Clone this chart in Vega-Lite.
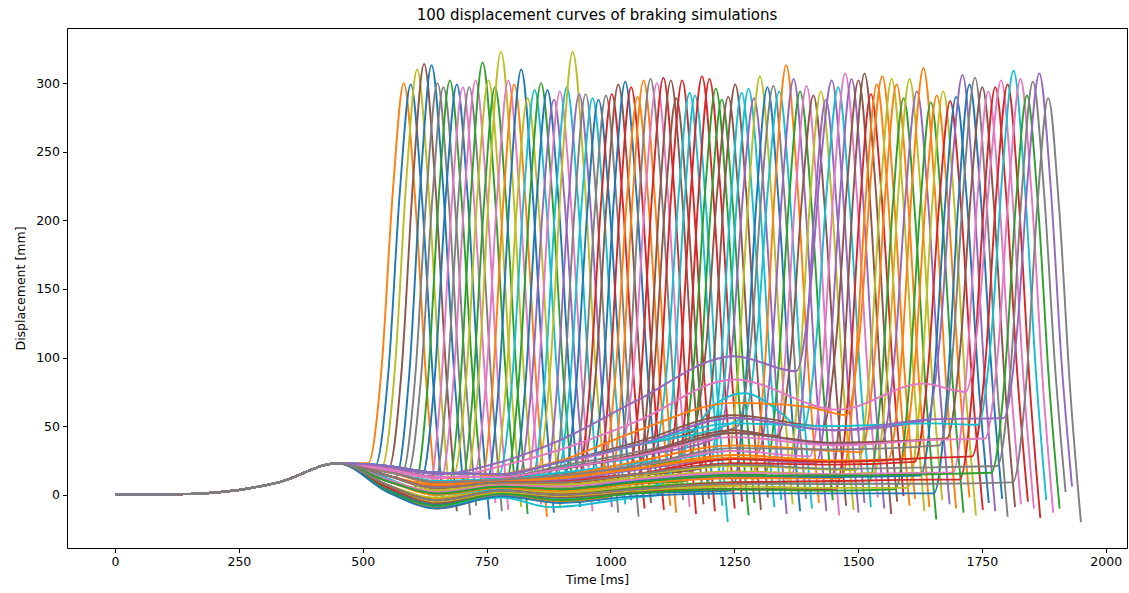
{
  "$schema": "https://vega.github.io/schema/vega-lite/v6.json",
  "width": 1060,
  "height": 520,
  "autosize": {"type": "none"},
  "padding": {"left": 67, "top": 28, "right": 2, "bottom": 45},
  "background": "#ffffff",
  "title": {"text": "100 displacement curves of braking simulations", "font": "DejaVu Sans", "fontSize": 15, "fontWeight": "normal", "color": "#000", "anchor": "middle", "offset": 5},
  "config": {
    "view": {"stroke": "#000", "strokeWidth": 1},
    "font": "DejaVu Sans",
    "axis": {"grid": false, "domain": false, "tickColor": "#000", "tickSize": 4.5, "labelFontSize": 12.5, "labelColor": "#000", "labelPadding": 3, "titleFontSize": 12.5, "titleFontWeight": "normal", "titleColor": "#000", "labelFlush": false, "labelOverlap": false, "format": "d"}
  },
  "data": {"values": [
{"sim":1,"t":0,"d":0},{"sim":1,"t":140,"d":0.5},{"sim":1,"t":330,"d":9},{"sim":1,"t":450,"d":23},{"sim":1,"t":511,"d":23},{"sim":1,"t":538,"d":92},{"sim":1,"t":561,"d":222},{"sim":1,"t":583,"d":300},{"sim":1,"t":605,"d":220},{"sim":1,"t":628,"d":84},{"sim":1,"t":649,"d":-8},
{"sim":0,"t":0,"d":0},{"sim":0,"t":140,"d":0.5},{"sim":0,"t":330,"d":9},{"sim":0,"t":450,"d":23},{"sim":0,"t":525,"d":21},{"sim":0,"t":552,"d":90},{"sim":0,"t":575,"d":221},{"sim":0,"t":597,"d":299},{"sim":0,"t":619,"d":219},{"sim":0,"t":642,"d":83},{"sim":0,"t":663,"d":-10},
{"sim":8,"t":0,"d":0},{"sim":8,"t":140,"d":0.5},{"sim":8,"t":330,"d":9},{"sim":8,"t":450,"d":23},{"sim":8,"t":538,"d":20},{"sim":8,"t":565,"d":92},{"sim":8,"t":588,"d":229},{"sim":8,"t":610,"d":310},{"sim":8,"t":632,"d":228},{"sim":8,"t":655,"d":90},{"sim":8,"t":676,"d":-5},
{"sim":5,"t":0,"d":0},{"sim":5,"t":140,"d":0.5},{"sim":5,"t":330,"d":9},{"sim":5,"t":450,"d":23},{"sim":5,"t":552,"d":19},{"sim":5,"t":579,"d":93},{"sim":5,"t":602,"d":231},{"sim":5,"t":624,"d":314},{"sim":5,"t":646,"d":229},{"sim":5,"t":669,"d":86},{"sim":5,"t":690,"d":-12},
{"sim":10,"t":0,"d":0},{"sim":10,"t":140,"d":0.5},{"sim":10,"t":330,"d":9},{"sim":10,"t":450,"d":23},{"sim":10,"t":567,"d":13},{"sim":10,"t":594,"d":88},{"sim":10,"t":617,"d":229},{"sim":10,"t":639,"d":313},{"sim":10,"t":661,"d":231},{"sim":10,"t":684,"d":92},{"sim":10,"t":705,"d":-3},
{"sim":7,"t":0,"d":0},{"sim":7,"t":140,"d":0.5},{"sim":7,"t":330,"d":9},{"sim":7,"t":450,"d":23},{"sim":7,"t":579,"d":15},{"sim":7,"t":606,"d":86},{"sim":7,"t":629,"d":220},{"sim":7,"t":651,"d":300},{"sim":7,"t":673,"d":218},{"sim":7,"t":696,"d":80},{"sim":7,"t":717,"d":-15},
{"sim":17,"t":0,"d":0},{"sim":17,"t":140,"d":0.5},{"sim":17,"t":330,"d":9},{"sim":17,"t":450,"d":23},{"sim":17,"t":591,"d":16.5},{"sim":17,"t":618,"d":87},{"sim":17,"t":641,"d":218},{"sim":17,"t":663,"d":297},{"sim":17,"t":685,"d":218},{"sim":17,"t":708,"d":84},{"sim":17,"t":729,"d":-8},
{"sim":2,"t":0,"d":0},{"sim":2,"t":140,"d":0.5},{"sim":2,"t":330,"d":9},{"sim":2,"t":450,"d":23},{"sim":2,"t":550,"d":10},{"sim":2,"t":604,"d":5},{"sim":2,"t":631,"d":79},{"sim":2,"t":654,"d":219},{"sim":2,"t":676,"d":302},{"sim":2,"t":698,"d":223},{"sim":2,"t":721,"d":91},{"sim":2,"t":742,"d":0},
{"sim":20,"t":0,"d":0},{"sim":20,"t":140,"d":0.5},{"sim":20,"t":330,"d":9},{"sim":20,"t":450,"d":23},{"sim":20,"t":550,"d":17},{"sim":20,"t":618,"d":11.6},{"sim":20,"t":645,"d":83.5},{"sim":20,"t":668,"d":218.5},{"sim":20,"t":690,"d":299},{"sim":20,"t":712,"d":216.6},{"sim":20,"t":735,"d":77},{"sim":20,"t":756,"d":-18},
{"sim":6,"t":0,"d":0},{"sim":6,"t":140,"d":0.5},{"sim":6,"t":330,"d":9},{"sim":6,"t":450,"d":23},{"sim":6,"t":550,"d":7},{"sim":6,"t":630,"d":-2},{"sim":6,"t":657,"d":73},{"sim":6,"t":680,"d":213},{"sim":6,"t":702,"d":297},{"sim":6,"t":724,"d":218},{"sim":6,"t":747,"d":85},{"sim":6,"t":768,"d":-6},
{"sim":27,"t":0,"d":0},{"sim":27,"t":140,"d":0.5},{"sim":27,"t":330,"d":9},{"sim":27,"t":450,"d":23},{"sim":27,"t":550,"d":14},{"sim":27,"t":643,"d":5.6},{"sim":27,"t":670,"d":78.5},{"sim":27,"t":693,"d":215.4},{"sim":27,"t":715,"d":297},{"sim":27,"t":737,"d":216.7},{"sim":27,"t":760,"d":80.7},{"sim":27,"t":781,"d":-12},
{"sim":16,"t":0,"d":0},{"sim":16,"t":140,"d":0.5},{"sim":16,"t":330,"d":9},{"sim":16,"t":450,"d":23},{"sim":16,"t":550,"d":17},{"sim":16,"t":656,"d":9},{"sim":16,"t":683,"d":82},{"sim":16,"t":706,"d":220},{"sim":16,"t":728,"d":302},{"sim":16,"t":750,"d":221},{"sim":16,"t":773,"d":83},{"sim":16,"t":794,"d":-11},
{"sim":12,"t":0,"d":0},{"sim":12,"t":140,"d":0.5},{"sim":12,"t":330,"d":9},{"sim":12,"t":450,"d":23},{"sim":12,"t":550,"d":10},{"sim":12,"t":650,"d":1},{"sim":12,"t":670,"d":2},{"sim":12,"t":697,"d":80},{"sim":12,"t":720,"d":227},{"sim":12,"t":742,"d":315},{"sim":12,"t":764,"d":234},{"sim":12,"t":787,"d":97},{"sim":12,"t":808,"d":4},
{"sim":18,"t":0,"d":0},{"sim":18,"t":140,"d":0.5},{"sim":18,"t":330,"d":9},{"sim":18,"t":450,"d":23},{"sim":18,"t":550,"d":19},{"sim":18,"t":650,"d":13},{"sim":18,"t":682,"d":13},{"sim":18,"t":709,"d":85},{"sim":18,"t":732,"d":221},{"sim":18,"t":754,"d":302},{"sim":18,"t":776,"d":221},{"sim":18,"t":799,"d":84},{"sim":18,"t":820,"d":-9},
{"sim":22,"t":0,"d":0},{"sim":22,"t":140,"d":0.5},{"sim":22,"t":330,"d":9},{"sim":22,"t":450,"d":23},{"sim":22,"t":550,"d":7},{"sim":22,"t":650,"d":-4},{"sim":22,"t":695,"d":-1.6},{"sim":22,"t":722,"d":73},{"sim":22,"t":745,"d":213},{"sim":22,"t":767,"d":297},{"sim":22,"t":789,"d":216},{"sim":22,"t":812,"d":79},{"sim":22,"t":833,"d":-14},
{"sim":28,"t":0,"d":0},{"sim":28,"t":140,"d":0.5},{"sim":28,"t":330,"d":9},{"sim":28,"t":450,"d":23},{"sim":28,"t":550,"d":14},{"sim":28,"t":650,"d":5},{"sim":28,"t":707,"d":6.3},{"sim":28,"t":734,"d":85.5},{"sim":28,"t":757,"d":234},{"sim":28,"t":779,"d":323},{"sim":28,"t":801,"d":238.5},{"sim":28,"t":824,"d":95.5},{"sim":28,"t":845,"d":-2},
{"sim":26,"t":0,"d":0},{"sim":26,"t":140,"d":0.5},{"sim":26,"t":330,"d":9},{"sim":26,"t":450,"d":23},{"sim":26,"t":550,"d":17},{"sim":26,"t":650,"d":9},{"sim":26,"t":722,"d":10},{"sim":26,"t":749,"d":83},{"sim":26,"t":772,"d":220},{"sim":26,"t":794,"d":302},{"sim":26,"t":816,"d":222},{"sim":26,"t":839,"d":86},{"sim":26,"t":860,"d":-7},
{"sim":11,"t":0,"d":0},{"sim":11,"t":140,"d":0.5},{"sim":11,"t":330,"d":9},{"sim":11,"t":450,"d":23},{"sim":11,"t":550,"d":3},{"sim":11,"t":650,"d":-9},{"sim":11,"t":734,"d":-3},{"sim":11,"t":761,"d":72.5},{"sim":11,"t":784,"d":214.5},{"sim":11,"t":806,"d":299},{"sim":11,"t":828,"d":217},{"sim":11,"t":851,"d":78.5},{"sim":11,"t":872,"d":-16},
{"sim":30,"t":0,"d":0},{"sim":30,"t":140,"d":0.5},{"sim":30,"t":330,"d":9},{"sim":30,"t":450,"d":23},{"sim":30,"t":550,"d":10},{"sim":30,"t":650,"d":1},{"sim":30,"t":748,"d":5},{"sim":30,"t":775,"d":81},{"sim":30,"t":798,"d":225},{"sim":30,"t":820,"d":310},{"sim":30,"t":842,"d":226},{"sim":30,"t":865,"d":84},{"sim":30,"t":886,"d":-13},
{"sim":38,"t":0,"d":0},{"sim":38,"t":140,"d":0.5},{"sim":38,"t":330,"d":9},{"sim":38,"t":450,"d":23},{"sim":38,"t":550,"d":7},{"sim":38,"t":650,"d":-4},{"sim":38,"t":761,"d":2},{"sim":38,"t":788,"d":74},{"sim":38,"t":811,"d":209},{"sim":38,"t":833,"d":289},{"sim":38,"t":855,"d":211},{"sim":38,"t":878,"d":80},{"sim":38,"t":899,"d":-10},
{"sim":9,"t":0,"d":0},{"sim":9,"t":140,"d":0.5},{"sim":9,"t":330,"d":9},{"sim":9,"t":450,"d":23},{"sim":9,"t":550,"d":21},{"sim":9,"t":650,"d":16},{"sim":9,"t":775,"d":15},{"sim":9,"t":802,"d":85},{"sim":9,"t":825,"d":217},{"sim":9,"t":847,"d":295},{"sim":9,"t":869,"d":219},{"sim":9,"t":892,"d":90},{"sim":9,"t":913,"d":2},
{"sim":32,"t":0,"d":0},{"sim":32,"t":140,"d":0.5},{"sim":32,"t":330,"d":9},{"sim":32,"t":450,"d":23},{"sim":32,"t":550,"d":14},{"sim":32,"t":650,"d":5},{"sim":32,"t":788,"d":9},{"sim":32,"t":815,"d":82},{"sim":32,"t":838,"d":218.5},{"sim":32,"t":860,"d":300},{"sim":32,"t":882,"d":221},{"sim":32,"t":905,"d":87},{"sim":32,"t":926,"d":-4},
{"sim":40,"t":0,"d":0},{"sim":40,"t":140,"d":0.5},{"sim":40,"t":330,"d":9},{"sim":40,"t":450,"d":23},{"sim":40,"t":550,"d":10},{"sim":40,"t":650,"d":1},{"sim":40,"t":780,"d":6},{"sim":40,"t":801,"d":5.8},{"sim":40,"t":828,"d":78},{"sim":40,"t":851,"d":214},{"sim":40,"t":873,"d":295},{"sim":40,"t":895,"d":216},{"sim":40,"t":918,"d":82},{"sim":40,"t":939,"d":-9},
{"sim":4,"t":0,"d":0},{"sim":4,"t":140,"d":0.5},{"sim":4,"t":330,"d":9},{"sim":4,"t":450,"d":23},{"sim":4,"t":550,"d":17},{"sim":4,"t":650,"d":9},{"sim":4,"t":780,"d":11},{"sim":4,"t":814,"d":12.4},{"sim":4,"t":841,"d":81},{"sim":4,"t":864,"d":211},{"sim":4,"t":886,"d":288},{"sim":4,"t":908,"d":212},{"sim":4,"t":931,"d":83},{"sim":4,"t":952,"d":-5},
{"sim":36,"t":0,"d":0},{"sim":36,"t":140,"d":0.5},{"sim":36,"t":330,"d":9},{"sim":36,"t":450,"d":23},{"sim":36,"t":550,"d":7},{"sim":36,"t":650,"d":-4},{"sim":36,"t":780,"d":3},{"sim":36,"t":826,"d":1.5},{"sim":36,"t":853,"d":75},{"sim":36,"t":876,"d":212},{"sim":36,"t":898,"d":294},{"sim":36,"t":920,"d":214.5},{"sim":36,"t":943,"d":80},{"sim":36,"t":964,"d":-12},
{"sim":19,"t":0,"d":0},{"sim":19,"t":140,"d":0.5},{"sim":19,"t":330,"d":9},{"sim":19,"t":450,"d":23},{"sim":19,"t":550,"d":14},{"sim":19,"t":650,"d":5},{"sim":19,"t":780,"d":9},{"sim":19,"t":840,"d":9.5},{"sim":19,"t":867,"d":81},{"sim":19,"t":890,"d":216.5},{"sim":19,"t":912,"d":297},{"sim":19,"t":934,"d":218},{"sim":19,"t":957,"d":85},{"sim":19,"t":978,"d":-6},
{"sim":48,"t":0,"d":0},{"sim":48,"t":140,"d":0.5},{"sim":48,"t":330,"d":9},{"sim":48,"t":450,"d":23},{"sim":48,"t":550,"d":19},{"sim":48,"t":650,"d":13},{"sim":48,"t":780,"d":13},{"sim":48,"t":852,"d":17},{"sim":48,"t":879,"d":93.5},{"sim":48,"t":902,"d":237},{"sim":48,"t":924,"d":323},{"sim":48,"t":946,"d":240},{"sim":48,"t":969,"d":99},{"sim":48,"t":990,"d":3},
{"sim":14,"t":0,"d":0},{"sim":14,"t":140,"d":0.5},{"sim":14,"t":330,"d":9},{"sim":14,"t":450,"d":23},{"sim":14,"t":550,"d":10},{"sim":14,"t":650,"d":1},{"sim":14,"t":780,"d":6},{"sim":14,"t":865,"d":4.6},{"sim":14,"t":892,"d":76.5},{"sim":14,"t":915,"d":211.5},{"sim":14,"t":937,"d":292},{"sim":14,"t":959,"d":214},{"sim":14,"t":982,"d":81},{"sim":14,"t":1003,"d":-9},
{"sim":37,"t":0,"d":0},{"sim":37,"t":140,"d":0.5},{"sim":37,"t":330,"d":9},{"sim":37,"t":450,"d":23},{"sim":37,"t":550,"d":3},{"sim":37,"t":650,"d":-9},{"sim":37,"t":780,"d":0},{"sim":37,"t":878,"d":-4},{"sim":37,"t":905,"d":70},{"sim":37,"t":928,"d":209},{"sim":37,"t":950,"d":292},{"sim":37,"t":972,"d":213},{"sim":37,"t":995,"d":78.5},{"sim":37,"t":1016,"d":-13},
{"sim":29,"t":0,"d":0},{"sim":29,"t":140,"d":0.5},{"sim":29,"t":330,"d":9},{"sim":29,"t":450,"d":23},{"sim":29,"t":550,"d":17},{"sim":29,"t":650,"d":9},{"sim":29,"t":780,"d":11},{"sim":29,"t":892,"d":14},{"sim":29,"t":919,"d":83},{"sim":29,"t":942,"d":212},{"sim":29,"t":964,"d":289},{"sim":29,"t":986,"d":212},{"sim":29,"t":1009,"d":82},{"sim":29,"t":1030,"d":-7},
{"sim":50,"t":0,"d":0},{"sim":50,"t":140,"d":0.5},{"sim":50,"t":330,"d":9},{"sim":50,"t":450,"d":23},{"sim":50,"t":550,"d":14},{"sim":50,"t":650,"d":5},{"sim":50,"t":780,"d":8},{"sim":50,"t":904,"d":10},{"sim":50,"t":931,"d":79.5},{"sim":50,"t":954,"d":210},{"sim":50,"t":976,"d":288},{"sim":50,"t":998,"d":212},{"sim":50,"t":1021,"d":83.6},{"sim":50,"t":1042,"d":-4},
{"sim":47,"t":0,"d":0},{"sim":47,"t":140,"d":0.5},{"sim":47,"t":330,"d":9},{"sim":47,"t":450,"d":23},{"sim":47,"t":550,"d":7},{"sim":47,"t":650,"d":-4},{"sim":47,"t":780,"d":3},{"sim":47,"t":919,"d":0},{"sim":47,"t":946,"d":73},{"sim":47,"t":969,"d":209.5},{"sim":47,"t":991,"d":291},{"sim":47,"t":1013,"d":211},{"sim":47,"t":1036,"d":76},{"sim":47,"t":1057,"d":-16},
{"sim":3,"t":0,"d":0},{"sim":3,"t":140,"d":0.5},{"sim":3,"t":330,"d":9},{"sim":3,"t":450,"d":23},{"sim":3,"t":550,"d":10},{"sim":3,"t":650,"d":1},{"sim":3,"t":780,"d":6},{"sim":3,"t":900,"d":4},{"sim":3,"t":931,"d":5},{"sim":3,"t":958,"d":77},{"sim":3,"t":981,"d":211.6},{"sim":3,"t":1003,"d":292},{"sim":3,"t":1025,"d":213.5},{"sim":3,"t":1048,"d":80.6},{"sim":3,"t":1069,"d":-10},
{"sim":15,"t":0,"d":0},{"sim":15,"t":140,"d":0.5},{"sim":15,"t":330,"d":9},{"sim":15,"t":450,"d":23},{"sim":15,"t":550,"d":19},{"sim":15,"t":650,"d":13},{"sim":15,"t":780,"d":13},{"sim":15,"t":900,"d":19},{"sim":15,"t":944,"d":21},{"sim":15,"t":971,"d":90.5},{"sim":15,"t":994,"d":221},{"sim":15,"t":1016,"d":299},{"sim":15,"t":1038,"d":220},{"sim":15,"t":1061,"d":85.5},{"sim":15,"t":1082,"d":-6},
{"sim":60,"t":0,"d":0},{"sim":60,"t":140,"d":0.5},{"sim":60,"t":330,"d":9},{"sim":60,"t":450,"d":23},{"sim":60,"t":550,"d":14},{"sim":60,"t":650,"d":4},{"sim":60,"t":780,"d":8},{"sim":60,"t":900,"d":8},{"sim":60,"t":958,"d":11},{"sim":60,"t":985,"d":83.5},{"sim":60,"t":1008,"d":220},{"sim":60,"t":1030,"d":301},{"sim":60,"t":1052,"d":222},{"sim":60,"t":1075,"d":90},{"sim":60,"t":1096,"d":-1},
{"sim":13,"t":0,"d":0},{"sim":13,"t":140,"d":0.5},{"sim":13,"t":330,"d":9},{"sim":13,"t":450,"d":23},{"sim":13,"t":550,"d":7},{"sim":13,"t":650,"d":-4},{"sim":13,"t":780,"d":3},{"sim":13,"t":900,"d":0},{"sim":13,"t":970,"d":2},{"sim":13,"t":997,"d":76},{"sim":13,"t":1020,"d":214},{"sim":13,"t":1042,"d":297},{"sim":13,"t":1064,"d":217},{"sim":13,"t":1087,"d":81},{"sim":13,"t":1108,"d":-11},
{"sim":21,"t":0,"d":0},{"sim":21,"t":140,"d":0.5},{"sim":21,"t":330,"d":9},{"sim":21,"t":450,"d":23},{"sim":21,"t":550,"d":17},{"sim":21,"t":650,"d":9},{"sim":21,"t":780,"d":11},{"sim":21,"t":900,"d":14},{"sim":21,"t":983,"d":17},{"sim":21,"t":1010,"d":85.5},{"sim":21,"t":1033,"d":214},{"sim":21,"t":1055,"d":290},{"sim":21,"t":1077,"d":212.5},{"sim":21,"t":1100,"d":81},{"sim":21,"t":1121,"d":-8},
{"sim":31,"t":0,"d":0},{"sim":31,"t":140,"d":0.5},{"sim":31,"t":330,"d":9},{"sim":31,"t":450,"d":23},{"sim":31,"t":550,"d":3},{"sim":31,"t":650,"d":-10},{"sim":31,"t":780,"d":-1},{"sim":31,"t":900,"d":-5},{"sim":31,"t":995,"d":-2},{"sim":31,"t":1022,"d":74},{"sim":31,"t":1045,"d":217},{"sim":31,"t":1067,"d":302},{"sim":31,"t":1089,"d":220},{"sim":31,"t":1112,"d":81.5},{"sim":31,"t":1133,"d":-13},
{"sim":57,"t":0,"d":0},{"sim":57,"t":140,"d":0.5},{"sim":57,"t":330,"d":9},{"sim":57,"t":450,"d":23},{"sim":57,"t":550,"d":10},{"sim":57,"t":650,"d":1},{"sim":57,"t":780,"d":6},{"sim":57,"t":900,"d":5},{"sim":57,"t":1009,"d":7.6},{"sim":57,"t":1036,"d":81.5},{"sim":57,"t":1059,"d":220},{"sim":57,"t":1081,"d":303},{"sim":57,"t":1103,"d":223},{"sim":57,"t":1126,"d":88},{"sim":57,"t":1147,"d":-4},
{"sim":46,"t":0,"d":0},{"sim":46,"t":140,"d":0.5},{"sim":46,"t":330,"d":9},{"sim":46,"t":450,"d":23},{"sim":46,"t":550,"d":21},{"sim":46,"t":650,"d":16},{"sim":46,"t":780,"d":15},{"sim":46,"t":900,"d":24},{"sim":46,"t":1022,"d":34},{"sim":46,"t":1049,"d":100.5},{"sim":46,"t":1072,"d":225.5},{"sim":46,"t":1094,"d":300},{"sim":46,"t":1116,"d":220},{"sim":46,"t":1139,"d":84},{"sim":46,"t":1160,"d":-9},
{"sim":23,"t":0,"d":0},{"sim":23,"t":140,"d":0.5},{"sim":23,"t":330,"d":9},{"sim":23,"t":450,"d":23},{"sim":23,"t":550,"d":14},{"sim":23,"t":650,"d":5},{"sim":23,"t":780,"d":9},{"sim":23,"t":900,"d":10},{"sim":23,"t":1035,"d":14.4},{"sim":23,"t":1062,"d":87},{"sim":23,"t":1085,"d":223},{"sim":23,"t":1107,"d":304},{"sim":23,"t":1129,"d":221},{"sim":23,"t":1152,"d":81},{"sim":23,"t":1173,"d":-14},
{"sim":25,"t":0,"d":0},{"sim":25,"t":140,"d":0.5},{"sim":25,"t":330,"d":9},{"sim":25,"t":450,"d":23},{"sim":25,"t":550,"d":7},{"sim":25,"t":650,"d":-3},{"sim":25,"t":780,"d":4},{"sim":25,"t":900,"d":1},{"sim":25,"t":1050,"d":5},{"sim":25,"t":1077,"d":79},{"sim":25,"t":1100,"d":219},{"sim":25,"t":1122,"d":302},{"sim":25,"t":1144,"d":222},{"sim":25,"t":1167,"d":86},{"sim":25,"t":1188,"d":-7},
{"sim":35,"t":0,"d":0},{"sim":35,"t":140,"d":0.5},{"sim":35,"t":330,"d":9},{"sim":35,"t":450,"d":23},{"sim":35,"t":550,"d":17},{"sim":35,"t":650,"d":8},{"sim":35,"t":780,"d":10},{"sim":35,"t":900,"d":15},{"sim":35,"t":1061,"d":21.5},{"sim":35,"t":1088,"d":88},{"sim":35,"t":1111,"d":214},{"sim":35,"t":1133,"d":289},{"sim":35,"t":1155,"d":213},{"sim":35,"t":1178,"d":85},{"sim":35,"t":1199,"d":-3},
{"sim":33,"t":0,"d":0},{"sim":33,"t":140,"d":0.5},{"sim":33,"t":330,"d":9},{"sim":33,"t":450,"d":23},{"sim":33,"t":550,"d":10},{"sim":33,"t":650,"d":2},{"sim":33,"t":780,"d":7},{"sim":33,"t":900,"d":5},{"sim":33,"t":1073,"d":9.5},{"sim":33,"t":1100,"d":82.6},{"sim":33,"t":1123,"d":220},{"sim":33,"t":1145,"d":302},{"sim":33,"t":1167,"d":220},{"sim":33,"t":1190,"d":82},{"sim":33,"t":1211,"d":-12},
{"sim":39,"t":0,"d":0},{"sim":39,"t":140,"d":0.5},{"sim":39,"t":330,"d":9},{"sim":39,"t":450,"d":23},{"sim":39,"t":550,"d":19},{"sim":39,"t":650,"d":13},{"sim":39,"t":780,"d":13},{"sim":39,"t":900,"d":20},{"sim":39,"t":1088,"d":30.5},{"sim":39,"t":1115,"d":96},{"sim":39,"t":1138,"d":219.5},{"sim":39,"t":1160,"d":293},{"sim":39,"t":1182,"d":215},{"sim":39,"t":1205,"d":82},{"sim":39,"t":1226,"d":-8},
{"sim":49,"t":0,"d":0},{"sim":49,"t":140,"d":0.5},{"sim":49,"t":330,"d":9},{"sim":49,"t":450,"d":23},{"sim":49,"t":550,"d":4},{"sim":49,"t":650,"d":-8},{"sim":49,"t":780,"d":-2},{"sim":49,"t":880,"d":-9},{"sim":49,"t":1050,"d":-2},{"sim":49,"t":1099,"d":0},{"sim":49,"t":1126,"d":73},{"sim":49,"t":1149,"d":209.5},{"sim":49,"t":1171,"d":291},{"sim":49,"t":1193,"d":210},{"sim":49,"t":1216,"d":73},{"sim":49,"t":1237,"d":-20},
{"sim":43,"t":0,"d":0},{"sim":43,"t":140,"d":0.5},{"sim":43,"t":330,"d":9},{"sim":43,"t":450,"d":23},{"sim":43,"t":550,"d":14},{"sim":43,"t":650,"d":6},{"sim":43,"t":780,"d":10},{"sim":43,"t":900,"d":11},{"sim":43,"t":1050,"d":15},{"sim":43,"t":1113,"d":17},{"sim":43,"t":1140,"d":89},{"sim":43,"t":1163,"d":224},{"sim":43,"t":1185,"d":305},{"sim":43,"t":1207,"d":223},{"sim":43,"t":1230,"d":84.5},{"sim":43,"t":1251,"d":-10},
{"sim":53,"t":0,"d":0},{"sim":53,"t":140,"d":0.5},{"sim":53,"t":330,"d":9},{"sim":53,"t":450,"d":23},{"sim":53,"t":550,"d":6},{"sim":53,"t":650,"d":-5},{"sim":53,"t":780,"d":2},{"sim":53,"t":900,"d":-1},{"sim":53,"t":1050,"d":3},{"sim":53,"t":1128,"d":3.5},{"sim":53,"t":1155,"d":78},{"sim":53,"t":1178,"d":219},{"sim":53,"t":1200,"d":303},{"sim":53,"t":1222,"d":223},{"sim":53,"t":1245,"d":87},{"sim":53,"t":1266,"d":-5},
{"sim":42,"t":0,"d":0},{"sim":42,"t":140,"d":0.5},{"sim":42,"t":330,"d":9},{"sim":42,"t":450,"d":23},{"sim":42,"t":550,"d":17},{"sim":42,"t":650,"d":9},{"sim":42,"t":780,"d":11},{"sim":42,"t":900,"d":14},{"sim":42,"t":1050,"d":21},{"sim":42,"t":1141,"d":25.5},{"sim":42,"t":1168,"d":93},{"sim":42,"t":1191,"d":220},{"sim":42,"t":1213,"d":296},{"sim":42,"t":1235,"d":215},{"sim":42,"t":1258,"d":78},{"sim":42,"t":1279,"d":-15},
{"sim":52,"t":0,"d":0},{"sim":52,"t":140,"d":0.5},{"sim":52,"t":330,"d":9},{"sim":52,"t":450,"d":23},{"sim":52,"t":550,"d":10},{"sim":52,"t":650,"d":1},{"sim":52,"t":780,"d":5},{"sim":52,"t":900,"d":3},{"sim":52,"t":1050,"d":8},{"sim":52,"t":1153,"d":10},{"sim":52,"t":1180,"d":79.5},{"sim":52,"t":1203,"d":210},{"sim":52,"t":1225,"d":288},{"sim":52,"t":1247,"d":211.5},{"sim":52,"t":1270,"d":82},{"sim":52,"t":1291,"d":-6},
{"sim":45,"t":0,"d":0},{"sim":45,"t":140,"d":0.5},{"sim":45,"t":330,"d":9},{"sim":45,"t":450,"d":23},{"sim":45,"t":550,"d":21},{"sim":45,"t":650,"d":16},{"sim":45,"t":780,"d":15},{"sim":45,"t":900,"d":24},{"sim":45,"t":1050,"d":36},{"sim":45,"t":1166,"d":46},{"sim":45,"t":1193,"d":107},{"sim":45,"t":1216,"d":222},{"sim":45,"t":1238,"d":290},{"sim":45,"t":1260,"d":212},{"sim":45,"t":1283,"d":79},{"sim":45,"t":1304,"d":-11},
{"sim":55,"t":0,"d":0},{"sim":55,"t":140,"d":0.5},{"sim":55,"t":330,"d":9},{"sim":55,"t":450,"d":23},{"sim":55,"t":550,"d":14},{"sim":55,"t":650,"d":4},{"sim":55,"t":780,"d":8},{"sim":55,"t":900,"d":8},{"sim":55,"t":1050,"d":14},{"sim":55,"t":1180,"d":19},{"sim":55,"t":1207,"d":89},{"sim":55,"t":1230,"d":220.6},{"sim":55,"t":1252,"d":299},{"sim":55,"t":1274,"d":221},{"sim":55,"t":1297,"d":88},{"sim":55,"t":1318,"d":-2},
{"sim":59,"t":0,"d":0},{"sim":59,"t":140,"d":0.5},{"sim":59,"t":330,"d":9},{"sim":59,"t":450,"d":23},{"sim":59,"t":550,"d":7},{"sim":59,"t":650,"d":-5},{"sim":59,"t":780,"d":2},{"sim":59,"t":900,"d":-1},{"sim":59,"t":1050,"d":3},{"sim":59,"t":1193,"d":6},{"sim":59,"t":1220,"d":78},{"sim":59,"t":1243,"d":212.7},{"sim":59,"t":1265,"d":293},{"sim":59,"t":1287,"d":214.5},{"sim":59,"t":1310,"d":81.6},{"sim":59,"t":1331,"d":-9},
{"sim":69,"t":0,"d":0},{"sim":69,"t":140,"d":0.5},{"sim":69,"t":330,"d":9},{"sim":69,"t":450,"d":23},{"sim":69,"t":550,"d":17},{"sim":69,"t":650,"d":10},{"sim":69,"t":780,"d":12},{"sim":69,"t":900,"d":16},{"sim":69,"t":1050,"d":23},{"sim":69,"t":1207,"d":31},{"sim":69,"t":1234,"d":97},{"sim":69,"t":1257,"d":222},{"sim":69,"t":1279,"d":296},{"sim":69,"t":1301,"d":218},{"sim":69,"t":1324,"d":86},{"sim":69,"t":1345,"d":-4},
{"sim":24,"t":0,"d":0},{"sim":24,"t":140,"d":0.5},{"sim":24,"t":330,"d":9},{"sim":24,"t":450,"d":23},{"sim":24,"t":550,"d":19},{"sim":24,"t":650,"d":13},{"sim":24,"t":780,"d":13},{"sim":24,"t":900,"d":19},{"sim":24,"t":1050,"d":28},{"sim":24,"t":1218,"d":42},{"sim":24,"t":1245,"d":104},{"sim":24,"t":1268,"d":220},{"sim":24,"t":1290,"d":289},{"sim":24,"t":1312,"d":210},{"sim":24,"t":1335,"d":77},{"sim":24,"t":1356,"d":-14},
{"sim":58,"t":0,"d":0},{"sim":58,"t":140,"d":0.5},{"sim":58,"t":330,"d":9},{"sim":58,"t":450,"d":23},{"sim":58,"t":550,"d":10},{"sim":58,"t":650,"d":0},{"sim":58,"t":780,"d":5},{"sim":58,"t":900,"d":5},{"sim":58,"t":1050,"d":10},{"sim":58,"t":1230,"d":13},{"sim":58,"t":1257,"d":86},{"sim":58,"t":1280,"d":223},{"sim":58,"t":1302,"d":305},{"sim":58,"t":1324,"d":224},{"sim":58,"t":1347,"d":86.6},{"sim":58,"t":1368,"d":-7},
{"sim":70,"t":0,"d":0},{"sim":70,"t":140,"d":0.5},{"sim":70,"t":330,"d":9},{"sim":70,"t":450,"d":23},{"sim":70,"t":550,"d":4},{"sim":70,"t":650,"d":-7},{"sim":70,"t":780,"d":1},{"sim":70,"t":900,"d":-3},{"sim":70,"t":1050,"d":1},{"sim":70,"t":1245,"d":3},{"sim":70,"t":1272,"d":76.5},{"sim":70,"t":1295,"d":214.6},{"sim":70,"t":1317,"d":297},{"sim":70,"t":1339,"d":216.7},{"sim":70,"t":1362,"d":80.7},{"sim":70,"t":1383,"d":-12},
{"sim":67,"t":0,"d":0},{"sim":67,"t":140,"d":0.5},{"sim":67,"t":330,"d":9},{"sim":67,"t":450,"d":23},{"sim":67,"t":550,"d":19},{"sim":67,"t":650,"d":13},{"sim":67,"t":780,"d":13},{"sim":67,"t":900,"d":21},{"sim":67,"t":1050,"d":31},{"sim":67,"t":1257,"d":50},{"sim":67,"t":1284,"d":112},{"sim":67,"t":1307,"d":228.6},{"sim":67,"t":1329,"d":298},{"sim":67,"t":1351,"d":219.7},{"sim":67,"t":1374,"d":87},{"sim":67,"t":1395,"d":-3},
{"sim":79,"t":0,"d":0},{"sim":79,"t":140,"d":0.5},{"sim":79,"t":330,"d":9},{"sim":79,"t":450,"d":23},{"sim":79,"t":550,"d":21},{"sim":79,"t":650,"d":16},{"sim":79,"t":780,"d":15},{"sim":79,"t":900,"d":24},{"sim":79,"t":1050,"d":36},{"sim":79,"t":1269,"d":56},{"sim":79,"t":1296,"d":115},{"sim":79,"t":1319,"d":227},{"sim":79,"t":1341,"d":294},{"sim":79,"t":1363,"d":215},{"sim":79,"t":1386,"d":81},{"sim":79,"t":1407,"d":-10},
{"sim":41,"t":0,"d":0},{"sim":41,"t":140,"d":0.5},{"sim":41,"t":330,"d":9},{"sim":41,"t":450,"d":23},{"sim":41,"t":550,"d":7},{"sim":41,"t":650,"d":-3},{"sim":41,"t":780,"d":4},{"sim":41,"t":900,"d":1},{"sim":41,"t":1050,"d":5},{"sim":41,"t":1283,"d":8},{"sim":41,"t":1310,"d":84},{"sim":41,"t":1333,"d":227.6},{"sim":41,"t":1355,"d":313},{"sim":41,"t":1377,"d":230},{"sim":41,"t":1400,"d":89.7},{"sim":41,"t":1421,"d":-6},
{"sim":34,"t":0,"d":0},{"sim":34,"t":140,"d":0.5},{"sim":34,"t":330,"d":9},{"sim":34,"t":450,"d":23},{"sim":34,"t":550,"d":17},{"sim":34,"t":650,"d":9},{"sim":34,"t":780,"d":11},{"sim":34,"t":900,"d":14},{"sim":34,"t":1050,"d":21},{"sim":34,"t":1250,"d":32},{"sim":34,"t":1298,"d":31},{"sim":34,"t":1325,"d":99},{"sim":34,"t":1348,"d":227},{"sim":34,"t":1370,"d":303},{"sim":34,"t":1392,"d":221},{"sim":34,"t":1415,"d":82.5},{"sim":34,"t":1436,"d":-12},
{"sim":62,"t":0,"d":0},{"sim":62,"t":140,"d":0.5},{"sim":62,"t":330,"d":9},{"sim":62,"t":450,"d":23},{"sim":62,"t":550,"d":10},{"sim":62,"t":650,"d":2},{"sim":62,"t":780,"d":7},{"sim":62,"t":900,"d":6},{"sim":62,"t":1050,"d":11},{"sim":62,"t":1250,"d":15},{"sim":62,"t":1311,"d":15},{"sim":62,"t":1338,"d":85},{"sim":62,"t":1361,"d":216},{"sim":62,"t":1383,"d":294},{"sim":62,"t":1405,"d":216.6},{"sim":62,"t":1428,"d":85.4},{"sim":62,"t":1449,"d":-4},
{"sim":56,"t":0,"d":0},{"sim":56,"t":140,"d":0.5},{"sim":56,"t":330,"d":9},{"sim":56,"t":450,"d":23},{"sim":56,"t":550,"d":14},{"sim":56,"t":650,"d":5},{"sim":56,"t":780,"d":9},{"sim":56,"t":900,"d":9},{"sim":56,"t":1050,"d":15},{"sim":56,"t":1250,"d":22},{"sim":56,"t":1324,"d":21},{"sim":56,"t":1351,"d":90},{"sim":56,"t":1374,"d":220.5},{"sim":56,"t":1396,"d":298},{"sim":56,"t":1418,"d":216.6},{"sim":56,"t":1441,"d":79},{"sim":56,"t":1462,"d":-15},
{"sim":65,"t":0,"d":0},{"sim":65,"t":140,"d":0.5},{"sim":65,"t":330,"d":9},{"sim":65,"t":450,"d":23},{"sim":65,"t":550,"d":19},{"sim":65,"t":650,"d":13},{"sim":65,"t":780,"d":13},{"sim":65,"t":900,"d":19},{"sim":65,"t":1050,"d":29},{"sim":65,"t":1250,"d":47},{"sim":65,"t":1338,"d":43},{"sim":65,"t":1365,"d":105},{"sim":65,"t":1388,"d":221.5},{"sim":65,"t":1410,"d":291},{"sim":65,"t":1432,"d":213},{"sim":65,"t":1455,"d":81.7},{"sim":65,"t":1476,"d":-8},
{"sim":68,"t":0,"d":0},{"sim":68,"t":140,"d":0.5},{"sim":68,"t":330,"d":9},{"sim":68,"t":450,"d":23},{"sim":68,"t":550,"d":7},{"sim":68,"t":650,"d":-2},{"sim":68,"t":780,"d":4},{"sim":68,"t":900,"d":2},{"sim":68,"t":1050,"d":6},{"sim":68,"t":1250,"d":9},{"sim":68,"t":1353,"d":8},{"sim":68,"t":1380,"d":79.5},{"sim":68,"t":1403,"d":214},{"sim":68,"t":1425,"d":294},{"sim":68,"t":1447,"d":214.7},{"sim":68,"t":1470,"d":80.5},{"sim":68,"t":1491,"d":-11},
{"sim":44,"t":0,"d":0},{"sim":44,"t":140,"d":0.5},{"sim":44,"t":330,"d":9},{"sim":44,"t":450,"d":23},{"sim":44,"t":550,"d":10},{"sim":44,"t":650,"d":1},{"sim":44,"t":780,"d":6},{"sim":44,"t":900,"d":4},{"sim":44,"t":1050,"d":9},{"sim":44,"t":1250,"d":13},{"sim":44,"t":1363,"d":12.4},{"sim":44,"t":1390,"d":81},{"sim":44,"t":1413,"d":211},{"sim":44,"t":1435,"d":288},{"sim":44,"t":1457,"d":209.7},{"sim":44,"t":1480,"d":77.3},{"sim":44,"t":1501,"d":-13},
{"sim":54,"t":0,"d":0},{"sim":54,"t":140,"d":0.5},{"sim":54,"t":330,"d":9},{"sim":54,"t":450,"d":23},{"sim":54,"t":550,"d":20},{"sim":54,"t":650,"d":15},{"sim":54,"t":780,"d":24},{"sim":54,"t":900,"d":40},{"sim":54,"t":1050,"d":68},{"sim":54,"t":1250,"d":101},{"sim":54,"t":1375,"d":90},{"sim":54,"t":1402,"d":143},{"sim":54,"t":1425,"d":242.6},{"sim":54,"t":1447,"d":302},{"sim":54,"t":1469,"d":222},{"sim":54,"t":1492,"d":86},{"sim":54,"t":1513,"d":-6},
{"sim":89,"t":0,"d":0},{"sim":89,"t":140,"d":0.5},{"sim":89,"t":330,"d":9},{"sim":89,"t":450,"d":23},{"sim":89,"t":550,"d":12},{"sim":89,"t":650,"d":0},{"sim":89,"t":780,"d":4},{"sim":89,"t":900,"d":-3},{"sim":89,"t":1000,"d":0},{"sim":89,"t":1100,"d":8},{"sim":89,"t":1150,"d":33},{"sim":89,"t":1200,"d":62},{"sim":89,"t":1270,"d":74},{"sim":89,"t":1350,"d":58},{"sim":89,"t":1388,"d":47},{"sim":89,"t":1415,"d":109.5},{"sim":89,"t":1438,"d":227},{"sim":89,"t":1460,"d":297},{"sim":89,"t":1482,"d":217.5},{"sim":89,"t":1505,"d":83},{"sim":89,"t":1526,"d":-9},
{"sim":66,"t":0,"d":0},{"sim":66,"t":140,"d":0.5},{"sim":66,"t":330,"d":9},{"sim":66,"t":450,"d":23},{"sim":66,"t":550,"d":17},{"sim":66,"t":650,"d":9},{"sim":66,"t":780,"d":11},{"sim":66,"t":900,"d":14},{"sim":66,"t":1050,"d":21},{"sim":66,"t":1250,"d":32},{"sim":66,"t":1402,"d":28},{"sim":66,"t":1429,"d":98},{"sim":66,"t":1452,"d":229},{"sim":66,"t":1474,"d":307},{"sim":66,"t":1496,"d":227},{"sim":66,"t":1519,"d":91},{"sim":66,"t":1540,"d":-2},
{"sim":64,"t":0,"d":0},{"sim":64,"t":140,"d":0.5},{"sim":64,"t":330,"d":9},{"sim":64,"t":450,"d":23},{"sim":64,"t":550,"d":14},{"sim":64,"t":650,"d":6},{"sim":64,"t":780,"d":10},{"sim":64,"t":900,"d":11},{"sim":64,"t":1050,"d":18},{"sim":64,"t":1250,"d":26},{"sim":64,"t":1415,"d":23},{"sim":64,"t":1442,"d":93},{"sim":64,"t":1465,"d":224.6},{"sim":64,"t":1487,"d":303},{"sim":64,"t":1509,"d":221.6},{"sim":64,"t":1532,"d":84},{"sim":64,"t":1553,"d":-10},
{"sim":75,"t":0,"d":0},{"sim":75,"t":140,"d":0.5},{"sim":75,"t":330,"d":9},{"sim":75,"t":450,"d":23},{"sim":75,"t":550,"d":21},{"sim":75,"t":650,"d":16},{"sim":75,"t":780,"d":15},{"sim":75,"t":900,"d":24},{"sim":75,"t":1050,"d":38},{"sim":75,"t":1250,"d":58},{"sim":75,"t":1429,"d":50},{"sim":75,"t":1456,"d":113},{"sim":75,"t":1479,"d":231},{"sim":75,"t":1501,"d":302},{"sim":75,"t":1523,"d":220},{"sim":75,"t":1546,"d":81},{"sim":75,"t":1567,"d":-14},
{"sim":85,"t":0,"d":0},{"sim":85,"t":140,"d":0.5},{"sim":85,"t":330,"d":9},{"sim":85,"t":450,"d":23},{"sim":85,"t":550,"d":5},{"sim":85,"t":650,"d":-6},{"sim":85,"t":780,"d":2},{"sim":85,"t":900,"d":-2},{"sim":85,"t":1050,"d":2},{"sim":85,"t":1250,"d":4},{"sim":85,"t":1441,"d":4},{"sim":85,"t":1468,"d":80},{"sim":85,"t":1491,"d":222},{"sim":85,"t":1513,"d":307},{"sim":85,"t":1535,"d":226},{"sim":85,"t":1558,"d":88.6},{"sim":85,"t":1579,"d":-5},
{"sim":63,"t":0,"d":0},{"sim":63,"t":140,"d":0.5},{"sim":63,"t":330,"d":9},{"sim":63,"t":450,"d":23},{"sim":63,"t":550,"d":6},{"sim":63,"t":650,"d":-5},{"sim":63,"t":780,"d":2},{"sim":63,"t":900,"d":-1},{"sim":63,"t":1050,"d":3},{"sim":63,"t":1250,"d":4},{"sim":63,"t":1454,"d":3.5},{"sim":63,"t":1481,"d":75.6},{"sim":63,"t":1504,"d":211},{"sim":63,"t":1526,"d":292},{"sim":63,"t":1548,"d":216},{"sim":63,"t":1571,"d":87},{"sim":63,"t":1592,"d":-1},
{"sim":51,"t":0,"d":0},{"sim":51,"t":140,"d":0.5},{"sim":51,"t":330,"d":9},{"sim":51,"t":450,"d":23},{"sim":51,"t":550,"d":10},{"sim":51,"t":650,"d":0},{"sim":51,"t":780,"d":5},{"sim":51,"t":900,"d":3},{"sim":51,"t":1050,"d":8},{"sim":51,"t":1250,"d":12},{"sim":51,"t":1466,"d":12},{"sim":51,"t":1493,"d":84},{"sim":51,"t":1516,"d":218.7},{"sim":51,"t":1538,"d":299},{"sim":51,"t":1560,"d":219},{"sim":51,"t":1583,"d":84},{"sim":51,"t":1604,"d":-8},
{"sim":61,"t":0,"d":0},{"sim":61,"t":140,"d":0.5},{"sim":61,"t":330,"d":9},{"sim":61,"t":450,"d":23},{"sim":61,"t":550,"d":19},{"sim":61,"t":650,"d":12},{"sim":61,"t":780,"d":15},{"sim":61,"t":900,"d":25},{"sim":61,"t":1050,"d":46},{"sim":61,"t":1250,"d":67},{"sim":61,"t":1400,"d":64},{"sim":61,"t":1477,"d":58},{"sim":61,"t":1504,"d":120},{"sim":61,"t":1527,"d":236},{"sim":61,"t":1549,"d":305},{"sim":61,"t":1571,"d":225},{"sim":61,"t":1594,"d":89},{"sim":61,"t":1615,"d":-3},
{"sim":78,"t":0,"d":0},{"sim":78,"t":140,"d":0.5},{"sim":78,"t":330,"d":9},{"sim":78,"t":450,"d":23},{"sim":78,"t":550,"d":14},{"sim":78,"t":650,"d":4},{"sim":78,"t":780,"d":8},{"sim":78,"t":900,"d":8},{"sim":78,"t":1050,"d":14},{"sim":78,"t":1250,"d":21},{"sim":78,"t":1496,"d":18},{"sim":78,"t":1523,"d":89},{"sim":78,"t":1546,"d":223},{"sim":78,"t":1568,"d":303},{"sim":78,"t":1590,"d":221},{"sim":78,"t":1613,"d":82.5},{"sim":78,"t":1634,"d":-12},
{"sim":71,"t":0,"d":0},{"sim":71,"t":140,"d":0.5},{"sim":71,"t":330,"d":9},{"sim":71,"t":450,"d":23},{"sim":71,"t":550,"d":17},{"sim":71,"t":650,"d":9},{"sim":71,"t":780,"d":11},{"sim":71,"t":900,"d":14},{"sim":71,"t":1050,"d":24},{"sim":71,"t":1250,"d":36},{"sim":71,"t":1450,"d":32},{"sim":71,"t":1506,"d":31},{"sim":71,"t":1533,"d":98},{"sim":71,"t":1556,"d":224},{"sim":71,"t":1578,"d":299},{"sim":71,"t":1600,"d":219},{"sim":71,"t":1623,"d":83},{"sim":71,"t":1644,"d":-9},
{"sim":72,"t":0,"d":0},{"sim":72,"t":140,"d":0.5},{"sim":72,"t":330,"d":9},{"sim":72,"t":450,"d":23},{"sim":72,"t":550,"d":7},{"sim":72,"t":650,"d":-4},{"sim":72,"t":780,"d":3},{"sim":72,"t":900,"d":0},{"sim":72,"t":1050,"d":5},{"sim":72,"t":1250,"d":9},{"sim":72,"t":1450,"d":8},{"sim":72,"t":1520,"d":8},{"sim":72,"t":1547,"d":78},{"sim":72,"t":1570,"d":210},{"sim":72,"t":1592,"d":289},{"sim":72,"t":1614,"d":209},{"sim":72,"t":1637,"d":74},{"sim":72,"t":1658,"d":-18},
{"sim":88,"t":0,"d":0},{"sim":88,"t":140,"d":0.5},{"sim":88,"t":330,"d":9},{"sim":88,"t":450,"d":23},{"sim":88,"t":550,"d":10},{"sim":88,"t":650,"d":3},{"sim":88,"t":780,"d":8},{"sim":88,"t":900,"d":7},{"sim":88,"t":1050,"d":12},{"sim":88,"t":1250,"d":17},{"sim":88,"t":1450,"d":15},{"sim":88,"t":1532,"d":16},{"sim":88,"t":1559,"d":88},{"sim":88,"t":1582,"d":222.7},{"sim":88,"t":1604,"d":303},{"sim":88,"t":1626,"d":223},{"sim":88,"t":1649,"d":88},{"sim":88,"t":1670,"d":-4},
{"sim":74,"t":0,"d":0},{"sim":74,"t":140,"d":0.5},{"sim":74,"t":330,"d":9},{"sim":74,"t":450,"d":23},{"sim":74,"t":550,"d":19},{"sim":74,"t":650,"d":13},{"sim":74,"t":780,"d":13},{"sim":74,"t":900,"d":19},{"sim":74,"t":1050,"d":28},{"sim":74,"t":1250,"d":45},{"sim":74,"t":1450,"d":37},{"sim":74,"t":1547,"d":38.5},{"sim":74,"t":1574,"d":102},{"sim":74,"t":1597,"d":222.5},{"sim":74,"t":1619,"d":294},{"sim":74,"t":1641,"d":216},{"sim":74,"t":1664,"d":83},{"sim":74,"t":1685,"d":-7},
{"sim":81,"t":0,"d":0},{"sim":81,"t":140,"d":0.5},{"sim":81,"t":330,"d":9},{"sim":81,"t":450,"d":23},{"sim":81,"t":550,"d":14},{"sim":81,"t":650,"d":7},{"sim":81,"t":780,"d":10},{"sim":81,"t":900,"d":12},{"sim":81,"t":1050,"d":19},{"sim":81,"t":1250,"d":27},{"sim":81,"t":1450,"d":24},{"sim":81,"t":1560,"d":25},{"sim":81,"t":1587,"d":96.5},{"sim":81,"t":1610,"d":231},{"sim":81,"t":1632,"d":311},{"sim":81,"t":1654,"d":227.5},{"sim":81,"t":1677,"d":86},{"sim":81,"t":1698,"d":-10},
{"sim":82,"t":0,"d":0},{"sim":82,"t":140,"d":0.5},{"sim":82,"t":330,"d":9},{"sim":82,"t":450,"d":23},{"sim":82,"t":550,"d":3},{"sim":82,"t":650,"d":-8},{"sim":82,"t":780,"d":1},{"sim":82,"t":900,"d":-4},{"sim":82,"t":1050,"d":1},{"sim":82,"t":1250,"d":4},{"sim":82,"t":1450,"d":3},{"sim":82,"t":1575,"d":4},{"sim":82,"t":1602,"d":74.5},{"sim":82,"t":1625,"d":207},{"sim":82,"t":1647,"d":286},{"sim":82,"t":1669,"d":208},{"sim":82,"t":1692,"d":76.7},{"sim":82,"t":1713,"d":-13},
{"sim":91,"t":0,"d":0},{"sim":91,"t":140,"d":0.5},{"sim":91,"t":330,"d":9},{"sim":91,"t":450,"d":23},{"sim":91,"t":550,"d":17},{"sim":91,"t":650,"d":8},{"sim":91,"t":780,"d":10},{"sim":91,"t":900,"d":13},{"sim":91,"t":1050,"d":19},{"sim":91,"t":1250,"d":29},{"sim":91,"t":1450,"d":25},{"sim":91,"t":1587,"d":26},{"sim":91,"t":1614,"d":92},{"sim":91,"t":1637,"d":217},{"sim":91,"t":1659,"d":291},{"sim":91,"t":1681,"d":215},{"sim":91,"t":1704,"d":86},{"sim":91,"t":1725,"d":-2},
{"sim":98,"t":0,"d":0},{"sim":98,"t":140,"d":0.5},{"sim":98,"t":330,"d":9},{"sim":98,"t":450,"d":23},{"sim":98,"t":550,"d":7},{"sim":98,"t":650,"d":-5},{"sim":98,"t":780,"d":2},{"sim":98,"t":900,"d":-1},{"sim":98,"t":1050,"d":3},{"sim":98,"t":1250,"d":6},{"sim":98,"t":1450,"d":5},{"sim":98,"t":1600,"d":5},{"sim":98,"t":1627,"d":77},{"sim":98,"t":1650,"d":213},{"sim":98,"t":1672,"d":294},{"sim":98,"t":1694,"d":213.7},{"sim":98,"t":1717,"d":77.7},{"sim":98,"t":1738,"d":-15},
{"sim":73,"t":0,"d":0},{"sim":73,"t":140,"d":0.5},{"sim":73,"t":330,"d":9},{"sim":73,"t":450,"d":23},{"sim":73,"t":550,"d":14},{"sim":73,"t":650,"d":5},{"sim":73,"t":780,"d":9},{"sim":73,"t":900,"d":9},{"sim":73,"t":1050,"d":15},{"sim":73,"t":1250,"d":23},{"sim":73,"t":1450,"d":22},{"sim":73,"t":1614,"d":24},{"sim":73,"t":1641,"d":90},{"sim":73,"t":1664,"d":213},{"sim":73,"t":1686,"d":287},{"sim":73,"t":1708,"d":209.5},{"sim":73,"t":1731,"d":78.4},{"sim":73,"t":1752,"d":-11},
{"sim":80,"t":0,"d":0},{"sim":80,"t":140,"d":0.5},{"sim":80,"t":330,"d":9},{"sim":80,"t":450,"d":23},{"sim":80,"t":550,"d":10},{"sim":80,"t":650,"d":1},{"sim":80,"t":780,"d":6},{"sim":80,"t":900,"d":4},{"sim":80,"t":1050,"d":10},{"sim":80,"t":1250,"d":14},{"sim":80,"t":1450,"d":13},{"sim":80,"t":1626,"d":14},{"sim":80,"t":1653,"d":83},{"sim":80,"t":1676,"d":212.7},{"sim":80,"t":1698,"d":290},{"sim":80,"t":1720,"d":213},{"sim":80,"t":1743,"d":82.8},{"sim":80,"t":1764,"d":-6},
{"sim":84,"t":0,"d":0},{"sim":84,"t":140,"d":0.5},{"sim":84,"t":330,"d":9},{"sim":84,"t":450,"d":23},{"sim":84,"t":550,"d":21},{"sim":84,"t":650,"d":16},{"sim":84,"t":780,"d":15},{"sim":84,"t":900,"d":24},{"sim":84,"t":1050,"d":36},{"sim":84,"t":1250,"d":56},{"sim":84,"t":1450,"d":47},{"sim":84,"t":1639,"d":54.5},{"sim":84,"t":1666,"d":117},{"sim":84,"t":1689,"d":235.6},{"sim":84,"t":1711,"d":306},{"sim":84,"t":1733,"d":223},{"sim":84,"t":1756,"d":83},{"sim":84,"t":1777,"d":-12},
{"sim":90,"t":0,"d":0},{"sim":90,"t":140,"d":0.5},{"sim":90,"t":330,"d":9},{"sim":90,"t":450,"d":23},{"sim":90,"t":550,"d":2},{"sim":90,"t":650,"d":-10},{"sim":90,"t":780,"d":-1},{"sim":90,"t":900,"d":-6},{"sim":90,"t":1050,"d":-1},{"sim":90,"t":1250,"d":1},{"sim":90,"t":1450,"d":1},{"sim":90,"t":1653,"d":1},{"sim":90,"t":1680,"d":75.5},{"sim":90,"t":1703,"d":215.6},{"sim":90,"t":1725,"d":299},{"sim":90,"t":1747,"d":220.5},{"sim":90,"t":1770,"d":87.6},{"sim":90,"t":1791,"d":-3},
{"sim":77,"t":0,"d":0},{"sim":77,"t":140,"d":0.5},{"sim":77,"t":330,"d":9},{"sim":77,"t":450,"d":23},{"sim":77,"t":550,"d":17},{"sim":77,"t":650,"d":9},{"sim":77,"t":780,"d":11},{"sim":77,"t":900,"d":14},{"sim":77,"t":1050,"d":21},{"sim":77,"t":1250,"d":34},{"sim":77,"t":1450,"d":33},{"sim":77,"t":1664,"d":36},{"sim":77,"t":1691,"d":103},{"sim":77,"t":1714,"d":229},{"sim":77,"t":1736,"d":304},{"sim":77,"t":1758,"d":221},{"sim":77,"t":1781,"d":80},{"sim":77,"t":1802,"d":-16},
{"sim":95,"t":0,"d":0},{"sim":95,"t":140,"d":0.5},{"sim":95,"t":330,"d":9},{"sim":95,"t":450,"d":23},{"sim":95,"t":550,"d":19},{"sim":95,"t":650,"d":13},{"sim":95,"t":780,"d":13},{"sim":95,"t":900,"d":19},{"sim":95,"t":1050,"d":28},{"sim":95,"t":1250,"d":45},{"sim":95,"t":1450,"d":38},{"sim":95,"t":1679,"d":41},{"sim":95,"t":1706,"d":105},{"sim":95,"t":1729,"d":225},{"sim":95,"t":1751,"d":297},{"sim":95,"t":1773,"d":217.5},{"sim":95,"t":1796,"d":83},{"sim":95,"t":1817,"d":-9},
{"sim":76,"t":0,"d":0},{"sim":76,"t":140,"d":0.5},{"sim":76,"t":330,"d":9},{"sim":76,"t":450,"d":23},{"sim":76,"t":550,"d":11},{"sim":76,"t":650,"d":2},{"sim":76,"t":780,"d":7},{"sim":76,"t":900,"d":6},{"sim":76,"t":1050,"d":11},{"sim":76,"t":1250,"d":16},{"sim":76,"t":1450,"d":15},{"sim":76,"t":1650,"d":16},{"sim":76,"t":1691,"d":16},{"sim":76,"t":1718,"d":85.5},{"sim":76,"t":1741,"d":216},{"sim":76,"t":1763,"d":294},{"sim":76,"t":1785,"d":216},{"sim":76,"t":1808,"d":83},{"sim":76,"t":1829,"d":-7},
{"sim":83,"t":0,"d":0},{"sim":83,"t":140,"d":0.5},{"sim":83,"t":330,"d":9},{"sim":83,"t":450,"d":23},{"sim":83,"t":550,"d":7},{"sim":83,"t":650,"d":-4},{"sim":83,"t":780,"d":3},{"sim":83,"t":900,"d":0},{"sim":83,"t":1050,"d":4},{"sim":83,"t":1250,"d":9},{"sim":83,"t":1450,"d":10},{"sim":83,"t":1650,"d":11},{"sim":83,"t":1705,"d":11},{"sim":83,"t":1732,"d":82.5},{"sim":83,"t":1755,"d":217},{"sim":83,"t":1777,"d":297},{"sim":83,"t":1799,"d":218.5},{"sim":83,"t":1822,"d":85.6},{"sim":83,"t":1843,"d":-5},
{"sim":86,"t":0,"d":0},{"sim":86,"t":140,"d":0.5},{"sim":86,"t":330,"d":9},{"sim":86,"t":450,"d":23},{"sim":86,"t":550,"d":18},{"sim":86,"t":650,"d":12},{"sim":86,"t":780,"d":21},{"sim":86,"t":900,"d":33},{"sim":86,"t":1050,"d":53},{"sim":86,"t":1250,"d":84},{"sim":86,"t":1460,"d":62},{"sim":86,"t":1632,"d":81},{"sim":86,"t":1717,"d":75},{"sim":86,"t":1744,"d":132},{"sim":86,"t":1767,"d":238},{"sim":86,"t":1789,"d":302},{"sim":86,"t":1811,"d":221},{"sim":86,"t":1834,"d":84},{"sim":86,"t":1855,"d":-10},
{"sim":93,"t":0,"d":0},{"sim":93,"t":140,"d":0.5},{"sim":93,"t":330,"d":9},{"sim":93,"t":450,"d":23},{"sim":93,"t":550,"d":14},{"sim":93,"t":650,"d":5},{"sim":93,"t":780,"d":9},{"sim":93,"t":900,"d":9},{"sim":93,"t":1050,"d":15},{"sim":93,"t":1250,"d":26},{"sim":93,"t":1450,"d":24},{"sim":93,"t":1650,"d":27},{"sim":93,"t":1730,"d":28},{"sim":93,"t":1757,"d":96},{"sim":93,"t":1780,"d":223},{"sim":93,"t":1802,"d":299},{"sim":93,"t":1824,"d":217},{"sim":93,"t":1847,"d":78},{"sim":93,"t":1868,"d":-17},
{"sim":99,"t":0,"d":0},{"sim":99,"t":140,"d":0.5},{"sim":99,"t":330,"d":9},{"sim":99,"t":450,"d":23},{"sim":99,"t":550,"d":21},{"sim":99,"t":650,"d":16},{"sim":99,"t":780,"d":15},{"sim":99,"t":900,"d":24},{"sim":99,"t":1050,"d":36},{"sim":99,"t":1250,"d":52},{"sim":99,"t":1450,"d":50},{"sim":99,"t":1650,"d":52},{"sim":99,"t":1742,"d":51},{"sim":99,"t":1769,"d":115.5},{"sim":99,"t":1792,"d":237},{"sim":99,"t":1814,"d":309},{"sim":99,"t":1836,"d":228},{"sim":99,"t":1859,"d":90},{"sim":99,"t":1880,"d":-4},
{"sim":96,"t":0,"d":0},{"sim":96,"t":140,"d":0.5},{"sim":96,"t":330,"d":9},{"sim":96,"t":450,"d":23},{"sim":96,"t":550,"d":19},{"sim":96,"t":650,"d":13},{"sim":96,"t":780,"d":13},{"sim":96,"t":900,"d":19},{"sim":96,"t":1050,"d":28},{"sim":96,"t":1250,"d":42},{"sim":96,"t":1450,"d":36},{"sim":96,"t":1650,"d":40},{"sim":96,"t":1756,"d":41},{"sim":96,"t":1783,"d":106.5},{"sim":96,"t":1806,"d":230},{"sim":96,"t":1828,"d":303},{"sim":96,"t":1850,"d":221},{"sim":96,"t":1873,"d":82},{"sim":96,"t":1894,"d":-13},
{"sim":92,"t":0,"d":0},{"sim":92,"t":140,"d":0.5},{"sim":92,"t":330,"d":9},{"sim":92,"t":450,"d":23},{"sim":92,"t":550,"d":10},{"sim":92,"t":650,"d":1},{"sim":92,"t":780,"d":6},{"sim":92,"t":900,"d":4},{"sim":92,"t":1050,"d":9},{"sim":92,"t":1250,"d":14},{"sim":92,"t":1450,"d":14},{"sim":92,"t":1650,"d":15},{"sim":92,"t":1769,"d":16},{"sim":92,"t":1796,"d":85},{"sim":92,"t":1819,"d":214},{"sim":92,"t":1841,"d":291},{"sim":92,"t":1863,"d":212.7},{"sim":92,"t":1886,"d":80},{"sim":92,"t":1907,"d":-10},
{"sim":87,"t":0,"d":0},{"sim":87,"t":140,"d":0.5},{"sim":87,"t":330,"d":9},{"sim":87,"t":450,"d":23},{"sim":87,"t":550,"d":14},{"sim":87,"t":650,"d":5},{"sim":87,"t":780,"d":9},{"sim":87,"t":900,"d":9},{"sim":87,"t":1050,"d":15},{"sim":87,"t":1250,"d":22},{"sim":87,"t":1450,"d":19},{"sim":87,"t":1650,"d":20},{"sim":87,"t":1781,"d":21},{"sim":87,"t":1808,"d":91},{"sim":87,"t":1831,"d":222.6},{"sim":87,"t":1853,"d":301},{"sim":87,"t":1875,"d":223},{"sim":87,"t":1898,"d":92},{"sim":87,"t":1919,"d":2},
{"sim":94,"t":0,"d":0},{"sim":94,"t":140,"d":0.5},{"sim":94,"t":330,"d":9},{"sim":94,"t":450,"d":23},{"sim":94,"t":550,"d":21},{"sim":94,"t":650,"d":16},{"sim":94,"t":780,"d":15},{"sim":94,"t":900,"d":24},{"sim":94,"t":1050,"d":36},{"sim":94,"t":1250,"d":56},{"sim":94,"t":1450,"d":47},{"sim":94,"t":1650,"d":55},{"sim":94,"t":1794,"d":56},{"sim":94,"t":1821,"d":119},{"sim":94,"t":1844,"d":237},{"sim":94,"t":1866,"d":307},{"sim":94,"t":1888,"d":229},{"sim":94,"t":1911,"d":96},{"sim":94,"t":1932,"d":6},
{"sim":97,"t":0,"d":0},{"sim":97,"t":140,"d":0.5},{"sim":97,"t":330,"d":9},{"sim":97,"t":450,"d":23},{"sim":97,"t":550,"d":7},{"sim":97,"t":650,"d":-4},{"sim":97,"t":780,"d":3},{"sim":97,"t":900,"d":0},{"sim":97,"t":1050,"d":4},{"sim":97,"t":1250,"d":8},{"sim":97,"t":1450,"d":8},{"sim":97,"t":1650,"d":8},{"sim":97,"t":1812,"d":9},{"sim":97,"t":1839,"d":79},{"sim":97,"t":1862,"d":210.6},{"sim":97,"t":1884,"d":289},{"sim":97,"t":1906,"d":208.7},{"sim":97,"t":1929,"d":72.7},{"sim":97,"t":1950,"d":-20}
  ]},
  "mark": {"type": "line", "interpolate": "monotone", "strokeWidth": 1.9, "clip": true},
  "encoding": {
    "x": {"field": "t", "type": "quantitative", "title": "Time [ms]", "scale": {"domain": [-97, 2043], "nice": false, "zero": false}, "axis": {"values": [0, 250, 500, 750, 1000, 1250, 1500, 1750, 2000], "titlePadding": 5}},
    "y": {"field": "d", "type": "quantitative", "title": "Displacement [mm]", "scale": {"domain": [-38.8, 340.2], "nice": false, "zero": false}, "axis": {"values": [0, 50, 100, 150, 200, 250, 300], "titlePadding": 8}},
    "color": {"field": "sim", "type": "nominal", "legend": null, "scale": {"scheme": "category10", "domain": [0,1,2,3,4,5,6,7,8,9,10,11,12,13,14,15,16,17,18,19,20,21,22,23,24,25,26,27,28,29,30,31,32,33,34,35,36,37,38,39,40,41,42,43,44,45,46,47,48,49,50,51,52,53,54,55,56,57,58,59,60,61,62,63,64,65,66,67,68,69,70,71,72,73,74,75,76,77,78,79,80,81,82,83,84,85,86,87,88,89,90,91,92,93,94,95,96,97,98,99]}},
    "order": {"field": "t", "type": "quantitative"}
  }
}
